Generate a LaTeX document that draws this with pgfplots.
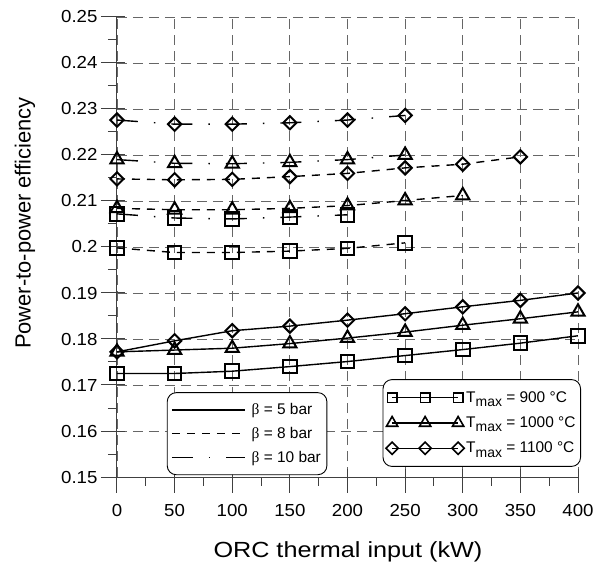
\documentclass[border=0pt]{standalone}
\usepackage{fontspec}
\setmainfont{Liberation Sans}
\newfontfamily\tickf{Liberation Sans}[FakeStretch=1.07]
\newfontfamily\xlabf{Liberation Sans}[FakeStretch=1.15]
\newfontfamily\symf{Liberation Serif}
\usepackage{pgfplots}
\pgfplotsset{compat=1.18}
\newcommand\Tmax{T\raisebox{-0.28em}{\fontsize{14}{15}\selectfont max}}
\tikzset{
  b5/.style={solid, line width=1.4bp},
  b8/.style={dash pattern=on 8bp off 7bp, line width=1.4bp},
  b10/.style={dash pattern=on 21bp off 16bp on 1.5bp off 16bp, line width=1.4bp},
  msq/.style={mark=square, mark size=6.8bp, mark options={solid, line width=2bp}},
  mtr/.style={mark=triangle, mark size=7.6bp, mark options={solid, line width=2bp}},
  mdi/.style={mark=square, mark size=4.7bp, mark options={solid, rotate=45, line width=2bp}},
}
\pgfplotsset{
  common/.style={
    scale only axis, width=461bp, height=460bp,
    xmin=0, xmax=400, ymin=0.15, ymax=0.25,
  }
}
\begin{document}
\begin{tikzpicture}
\begin{axis}[common,
  axis lines*=left,
  axis line style={black!75, line width=1bp},
  xtick={0,50,...,400},
  ytick={0.15,0.16,0.17,0.18,0.19,0.2,0.21,0.22,0.23,0.24,0.25},
  yticklabels={0.15,0.16,0.17,0.18,0.19,0.2,0.21,0.22,0.23,0.24,0.25},
  minor x tick num=1, minor y tick num=1,
  scaled y ticks=false,
  tick align=outside,
  major tick length=24bp, minor tick length=9bp,
  tick style={black!75, line width=1bp},
  every major x tick/.append style={yshift=8bp},
  every major y tick/.append style={xshift=8bp},
  grid=major,
  major grid style={dash pattern=on 10bp off 6bp, black!60, line width=0.9bp},
  /pgf/number format/assume math mode=true,
  xticklabel style={font=\tickf\fontsize{17.5}{20}\selectfont},
  yticklabel style={font=\tickf\fontsize{17.5}{20}\selectfont, xshift=8bp},
  xlabel={ORC thermal input (kW)},
  ylabel={Power-to-power efficiency},
  xlabel style={font=\xlabf\fontsize{22}{24}\selectfont, at={(axis description cs:0.501,-0.163)}, anchor=center},
  ylabel style={font=\fontsize{22}{24}\selectfont, at={(axis description cs:-0.1996,0.552)}, anchor=center},
  legend image code/.code={\draw[#1] (0bp,0bp) -- (73bp,0bp);},
  legend style={at={(rel axis cs:0.108,0.004)}, anchor=south west,
    draw=black, line width=0.9bp, rounded corners=9bp,
    font=\fontsize{15.5}{17}\selectfont,
    nodes={inner sep=2bp}, row sep=7bp,
    inner xsep=4bp, inner ysep=9bp,
    /tikz/every odd column/.append style={column sep=4bp}},
  legend cell align=left,
]
\addlegendimage{b5}
\addlegendimage{b8}
\addlegendimage{b10}
\addlegendentry{{\symf β} = 5 bar}
\addlegendentry{{\symf β} = 8 bar}
\addlegendentry{{\symf β} = 10 bar}
\coordinate (sw) at (rel axis cs:0,0);
% beta = 5 bar
\addplot[b5, msq] coordinates {(0,0.1725)(50,0.1725)(100,0.1730)(150,0.1740)(200,0.1751)(250,0.1764)(300,0.1777)(350,0.1791)(400,0.1807)};
\addplot[b5, mtr] coordinates {(0,0.1772)(50,0.1776)(100,0.1780)(150,0.1790)(200,0.1802)(250,0.1815)(300,0.1830)(350,0.1844)(400,0.1859)};
\addplot[b5, mdi] coordinates {(0,0.1772)(50,0.1796)(100,0.1818)(150,0.1828)(200,0.1841)(250,0.1855)(300,0.1870)(350,0.1884)(400,0.1900)};
% beta = 8 bar
\addplot[b8, msq] coordinates {(0,0.1998)(50,0.1988)(100,0.1988)(150,0.1991)(200,0.1997)(250,0.2009)};
\addplot[b8, mtr] coordinates {(0,0.2084)(50,0.2081)(100,0.2081)(150,0.2084)(200,0.2090)(250,0.2101)(300,0.2112)};
\addplot[b8, mdi] coordinates {(0,0.2148)(50,0.2146)(100,0.2147)(150,0.2153)(200,0.2160)(250,0.2172)(300,0.2180)(350,0.2196)};
% beta = 10 bar
\addplot[b10, msq] coordinates {(0,0.2072)(50,0.2063)(100,0.2061)(150,0.2065)(200,0.2070)};
\addplot[b10, mtr] coordinates {(0,0.2190)(50,0.2182)(100,0.2181)(150,0.2184)(200,0.2190)(250,0.2200)};
\addplot[b10, mdi] coordinates {(0,0.2276)(50,0.2267)(100,0.2267)(150,0.2270)(200,0.2276)(250,0.2286)};
\end{axis}
\begin{axis}[common, hide axis,
  legend image code/.code={\draw[#1] plot coordinates {(0bp,0bp) (33bp,0bp) (66bp,0bp)};},
  legend style={at={(rel axis cs:1.0065,0.022)}, anchor=south east,
    draw=black, line width=0.9bp, rounded corners=9bp,
    font=\fontsize{15.5}{17}\selectfont,
    nodes={inner sep=2bp}, row sep=9bp,
    inner xsep=3bp, inner ysep=10bp},
  legend cell align=left,
]
\addlegendimage{solid, line width=1.4bp, mark=square, mark size=4.6bp, mark options={solid, line width=1.6bp}}
\addlegendimage{solid, line width=1.4bp, mark=triangle, mark size=6.5bp, mark options={solid, line width=1.6bp}}
\addlegendimage{solid, line width=1.4bp, mark=square, mark size=4.3bp, mark options={solid, rotate=45, line width=1.6bp}}
\addlegendentry{\Tmax{} = 900 °C}
\addlegendentry{\Tmax{} = 1000 °C}
\addlegendentry{\Tmax{} = 1100 °C}
\end{axis}
\pgfresetboundingbox
\path ([shift={(-117bp,-93bp)}]sw) rectangle ([shift={(480bp,477bp)}]sw);
\end{tikzpicture}
\end{document}
